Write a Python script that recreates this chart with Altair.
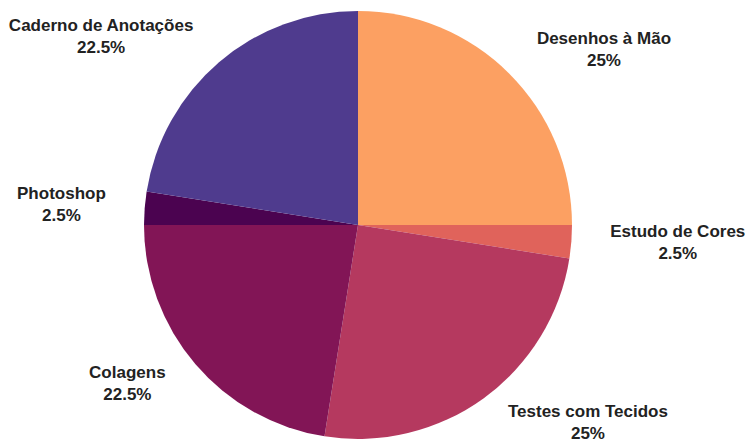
import altair as alt
import pandas as pd

categories = ["Desenhos à Mão", "Estudo de Cores", "Testes com Tecidos",
              "Colagens", "Photoshop", "Caderno de Anotações"]
shares = [25, 2.5, 25, 22.5, 2.5, 22.5]
pct_labels = ["25%", "2.5%", "25%", "22.5%", "2.5%", "22.5%"]
colors = ["#FCA062", "#E0635B", "#B5395F", "#821556", "#4B0350", "#4F3B8E"]

FONT_SIZE = 17
# Liberation Sans Bold advance widths (per 1000 em) for label measuring
_W = {}
for ch, w in zip("abcdefghijklmnopqrstuvwxyz",
                 [556, 611, 556, 611, 556, 333, 611, 611, 278, 278, 556, 278, 889,
                  611, 611, 611, 611, 389, 556, 333, 611, 556, 778, 556, 556, 500]):
    _W[ch] = w
for ch, w in zip("ABCDEFGHIJKLMNOPQRSTUVWXYZ",
                 [722, 722, 722, 722, 667, 611, 778, 722, 278, 556, 722, 611, 833,
                  722, 778, 667, 778, 722, 667, 611, 722, 667, 944, 667, 667, 611]):
    _W[ch] = w
_W.update({"à": 556, "ã": 556, "ç": 556, "õ": 611, " ": 278, ".": 278, "%": 889})
for d in "0123456789":
    _W[d] = 556


def text_width(s):
    return sum(_W.get(c, 600) for c in s) * FONT_SIZE / 1000.0


df = pd.DataFrame({
    "categoria": categories,
    "share": shares,
    "pct": pct_labels,
    "idx": list(range(len(categories))),
})
df["halfw"] = [max(text_width(a), text_width(b)) / 2 for a, b in zip(categories, pct_labels)]

CX, CY, R = 358, 225, 214

base = alt.Chart(df)

pie = base.mark_arc(outerRadius=R).encode(
    theta=alt.Theta("share:Q", stack=True),
    order=alt.Order("idx:Q", sort="ascending"),
    color=alt.Color("categoria:N", scale=alt.Scale(domain=categories, range=colors), legend=None),
    x=alt.value(CX),
    y=alt.value(CY),
)

labels_base = base.transform_joinaggregate(
    total="sum(share)"
).transform_window(
    cum="sum(share)", sort=[alt.SortField("idx", order="ascending")], frame=[None, 0]
).transform_calculate(
    mid="2*PI*(datum.cum - datum.share/2)/datum.total"
).transform_calculate(
    lx=f"{CX} + 253*sin(datum.mid) + (sin(datum.mid) >= 0 ? 1 : -1)*datum.halfw",
    ly=f"{CY - 1} - 246*cos(datum.mid)",
)

txt_kw = dict(font="Liberation Sans", fontSize=FONT_SIZE, fontWeight="bold",
              color="#222222", align="center", baseline="middle")

name_txt = labels_base.mark_text(dy=-11, **txt_kw).encode(
    x=alt.X("lx:Q", scale=None, axis=None),
    y=alt.Y("ly:Q", scale=None, axis=None),
    text="categoria:N",
)
pct_txt = labels_base.mark_text(dy=11, **txt_kw).encode(
    x=alt.X("lx:Q", scale=None, axis=None),
    y=alt.Y("ly:Q", scale=None, axis=None),
    text="pct:N",
)

chart = alt.layer(pie, name_txt, pct_txt).properties(
    width=745, height=441,
    autosize=alt.AutoSizeParams(type="none"),
    padding=0,
    background="white",
).configure_view(stroke=None)

chart.save("out.html", embed_options={"renderer": "svg", "actions": False})
